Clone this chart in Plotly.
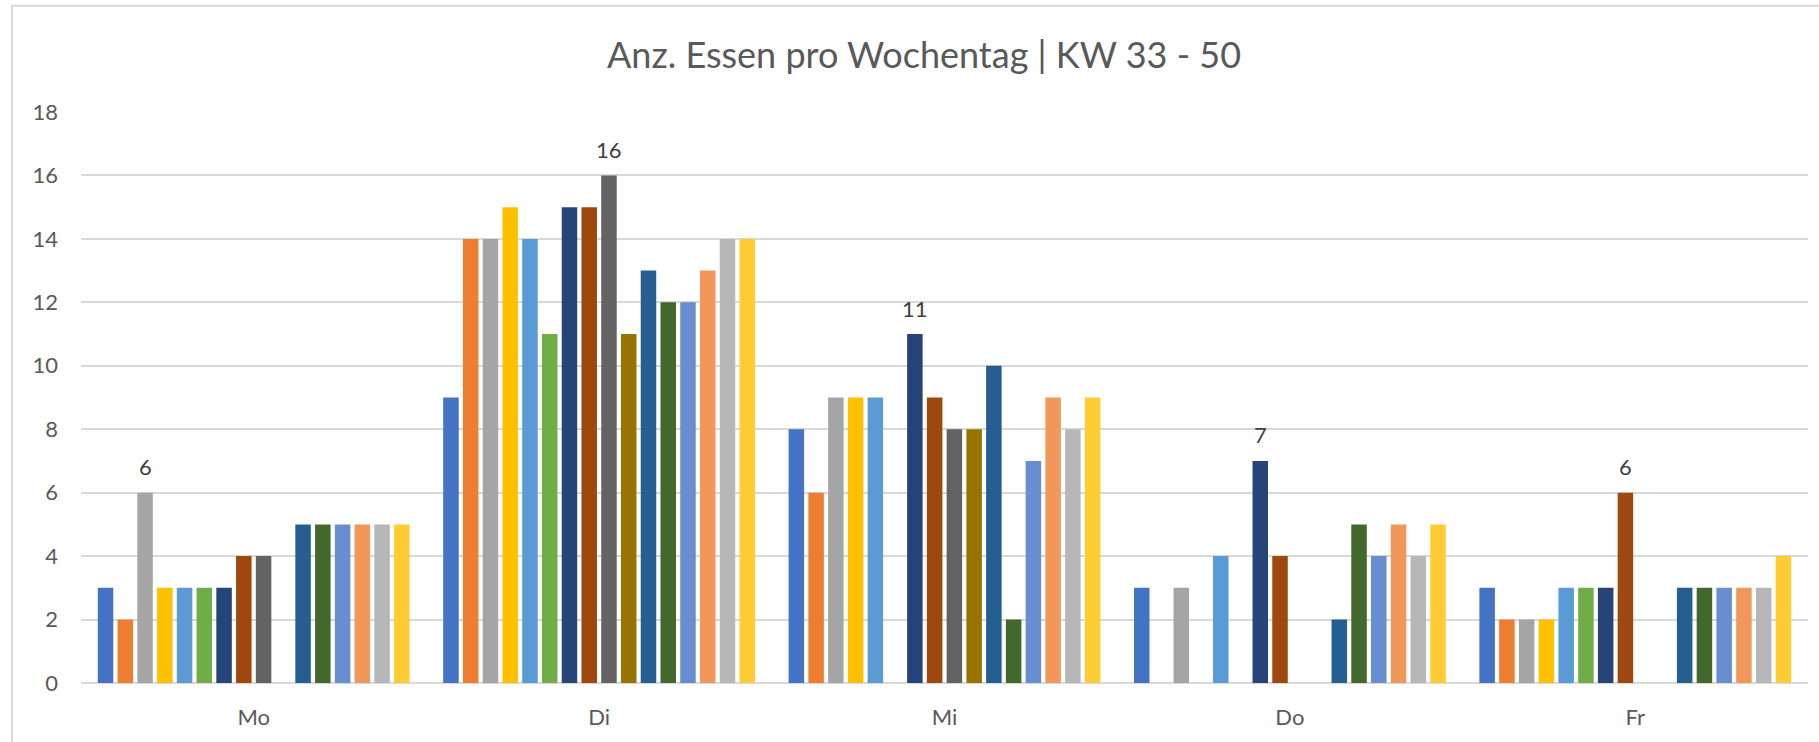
import plotly.graph_objects as go

# --- Daten ---
TAGE = ["Mo", "Di", "Mi", "Do", "Fr"]
WOCHEN = [f"KW {k}" for k in range(33, 49)]
FARBEN = [
    "#4472C4", "#ED7D31", "#A5A5A5", "#FFC000", "#5B9BD5", "#70AD47",
    "#264478", "#9E480E", "#636363", "#997300", "#255E91", "#43682B",
    "#698ED0", "#F1975A", "#B7B7B7", "#FFCD33",
]
# Anzahl Essen je Woche (Reihe) fuer Mo..Fr
ESSEN = [
    [3, 9, 8, 3, 3],
    [2, 14, 6, 0, 2],
    [6, 14, 9, 3, 2],
    [3, 15, 9, 0, 2],
    [3, 14, 9, 4, 3],
    [3, 11, 0, 0, 3],
    [3, 15, 11, 7, 3],
    [4, 15, 9, 4, 6],
    [4, 16, 8, 0, 0],
    [0, 11, 8, 0, 0],
    [5, 13, 10, 2, 3],
    [5, 12, 2, 5, 3],
    [5, 12, 7, 4, 3],
    [5, 13, 9, 5, 3],
    [5, 14, 8, 4, 3],
    [5, 14, 9, 5, 4],
]
# -------------

FONT = "Lato, Carlito, Calibri, sans-serif"
W, H = 1819, 742
M_L, M_R, M_T, M_B = 81, 11, 112, 59
BARGAP = 0.085

fig = go.Figure()
for name, farbe, werte in zip(WOCHEN, FARBEN, ESSEN):
    fig.add_trace(go.Bar(
        x=TAGE,
        y=werte,
        name=name,
        marker=dict(color=farbe, line=dict(width=0)),
    ))

# Maximum je Tag wird beschriftet (wie Excel-Datenbeschriftung)
n = len(ESSEN)
slot_px = (W - M_L - M_R) / len(TAGE) * (1 - BARGAP) / n
for i, tag in enumerate(TAGE):
    werte_tag = [reihe[i] for reihe in ESSEN]
    mx = max(werte_tag)
    k = werte_tag.index(mx)
    fig.add_annotation(
        x=tag, y=mx, xref="x", yref="y",
        text=str(mx), showarrow=False,
        xshift=(k - (n - 1) / 2) * slot_px,
        yshift=26, yanchor="middle",
        font=dict(family=FONT, size=22, color="#404040"),
    )

fig.update_layout(
    barmode="group",
    bargap=BARGAP,
    bargroupgap=0.215,
    width=W,
    height=H,
    margin=dict(l=M_L, r=M_R, t=M_T, b=M_B),
    paper_bgcolor="white",
    plot_bgcolor="white",
    showlegend=False,
    font=dict(family=FONT, color="#595959", size=22),
    title=dict(
        text="Anz. Essen pro Wochentag | KW 33 - 50",
        x=0.508, xanchor="center",
        y=0.926, yanchor="middle",
        font=dict(family=FONT, size=36, color="#595959"),
    ),
    xaxis=dict(
        showgrid=False,
        showline=False,
        ticks="",
        tickfont=dict(size=22, color="#595959"),
        ticklabelstandoff=19,
    ),
    yaxis=dict(
        range=[0, 18],
        dtick=2,
        showgrid=True,
        gridcolor="#D9D9D9",
        gridwidth=2,
        zeroline=True,
        zerolinecolor="#D9D9D9",
        zerolinewidth=2,
        showline=False,
        ticks="",
        tickfont=dict(size=22, color="#595959"),
        ticklabelstandoff=22,
    ),
    shapes=[dict(
        type="rect", xref="paper", yref="paper",
        x0=-0.04, x1=1.02, y0=-0.2, y1=1.186,
        line=dict(color="#D9D9D9", width=2),
        fillcolor="rgba(0,0,0,0)",
        layer="below",
    )],
)

fig.write_html(
    "out.html",
    config={"displayModeBar": False},
    post_script="document.body.style.margin='0';",
)
